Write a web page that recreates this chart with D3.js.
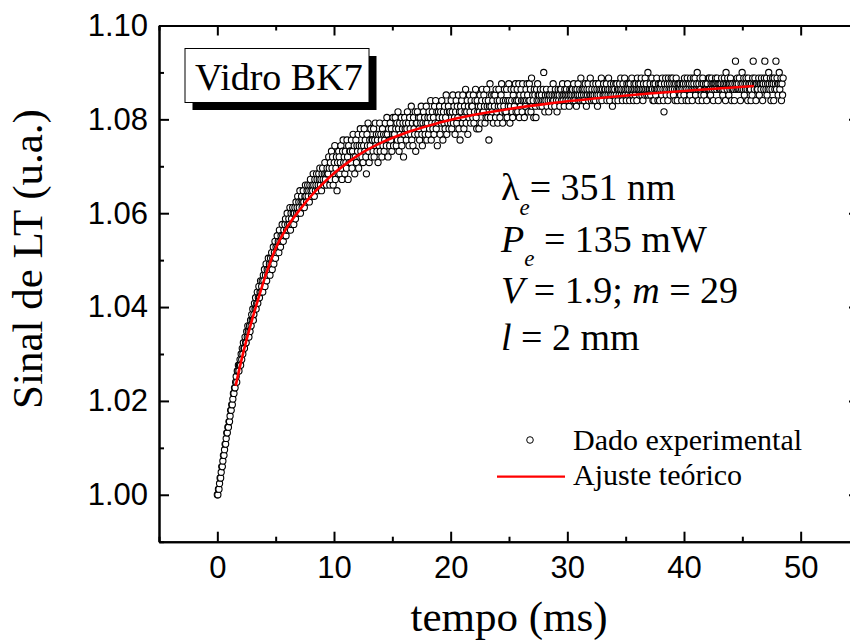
<!DOCTYPE html>
<html><head><meta charset="utf-8">
<script src="https://cdn.jsdelivr.net/npm/d3@7"></script>
<style>body{margin:0;background:#fff;} svg{display:block;}</style>
</head><body>
<svg id="chart" width="850" height="642"></svg>
<script>
// ---------------- data ----------------
const xDomain = [-5, 55];
const yDomain = [0.99, 1.10];
const xTicksMajor = [0, 10, 20, 30, 40, 50];
const xTicksMinor = [-5, 5, 15, 25, 35, 45, 55];
const yTicksMajor = [1.00, 1.02, 1.04, 1.06, 1.08, 1.10];
const yTicksMinor = [0.99, 1.01, 1.03, 1.05, 1.07, 1.09];

// sampling of the experimental record (ms)
const sampleStart = 0;
const sampleStep = 0.0475;

// experimental LT signal (a.u.), one value per sample
const signal = [
1.0000,1.0000,1.0012,1.0012,1.0024,1.0036,1.0036,1.0048,1.0060,1.0060,1.0072,1.0084,1.0084,1.0096,1.0108,1.0108,1.0120,1.0132,1.0132,1.0144,
1.0144,1.0156,1.0156,1.0168,1.0180,1.0180,1.0192,1.0192,1.0204,1.0216,1.0216,1.0228,1.0228,1.0240,1.0252,1.0240,1.0264,1.0264,1.0276,1.0264,
1.0276,1.0288,1.0276,1.0300,1.0288,1.0312,1.0300,1.0324,1.0312,1.0312,1.0336,1.0324,1.0324,1.0348,1.0336,1.0360,1.0348,1.0336,1.0360,1.0348,
1.0372,1.0360,1.0384,1.0372,1.0396,1.0372,1.0384,1.0408,1.0396,1.0420,1.0396,1.0408,1.0432,1.0408,1.0420,1.0444,1.0420,1.0432,1.0456,1.0432,
1.0444,1.0456,1.0432,1.0468,1.0456,1.0480,1.0444,1.0468,1.0492,1.0456,1.0480,1.0468,1.0504,1.0480,1.0492,1.0468,1.0504,1.0492,1.0516,1.0480,
1.0504,1.0528,1.0492,1.0516,1.0540,1.0504,1.0528,1.0516,1.0552,1.0528,1.0540,1.0516,1.0564,1.0540,1.0528,1.0552,1.0540,1.0576,1.0552,1.0540,
1.0564,1.0552,1.0576,1.0588,1.0552,1.0564,1.0600,1.0576,1.0564,1.0588,1.0576,1.0612,1.0564,1.0600,1.0588,1.0576,1.0612,1.0600,1.0576,1.0600,
1.0612,1.0588,1.0624,1.0600,1.0612,1.0636,1.0600,1.0624,1.0612,1.0648,1.0600,1.0624,1.0636,1.0612,1.0624,1.0648,1.0624,1.0612,1.0636,1.0660,
1.0636,1.0624,1.0648,1.0660,1.0636,1.0648,1.0624,1.0660,1.0672,1.0648,1.0636,1.0660,1.0648,1.0684,1.0660,1.0636,1.0672,1.0648,1.0660,1.0684,
1.0672,1.0648,1.0660,1.0684,1.0672,1.0696,1.0660,1.0672,1.0648,1.0684,1.0696,1.0672,1.0660,1.0684,1.0708,1.0672,1.0684,1.0660,1.0696,1.0684,
1.0684,1.0720,1.0696,1.0660,1.0708,1.0672,1.0732,1.0696,1.0720,1.0660,1.0684,1.0708,1.0744,1.0672,1.0696,1.0720,1.0648,1.0708,1.0684,1.0732,
1.0720,1.0684,1.0708,1.0744,1.0696,1.0672,1.0732,1.0756,1.0708,1.0720,1.0684,1.0732,1.0708,1.0696,1.0756,1.0720,1.0672,1.0744,1.0708,1.0732,
1.0732,1.0708,1.0756,1.0696,1.0732,1.0768,1.0720,1.0744,1.0684,1.0720,1.0756,1.0708,1.0744,1.0732,1.0768,1.0696,1.0744,1.0720,1.0780,1.0732,
1.0744,1.0720,1.0768,1.0708,1.0744,1.0780,1.0732,1.0756,1.0720,1.0684,1.0768,1.0744,1.0792,1.0732,1.0708,1.0756,1.0744,1.0780,1.0720,1.0756,
1.0756,1.0732,1.0780,1.0720,1.0756,1.0792,1.0744,1.0768,1.0732,1.0756,1.0708,1.0768,1.0744,1.0792,1.0732,1.0768,1.0756,1.0720,1.0780,1.0744,
1.0768,1.0732,1.0756,1.0792,1.0768,1.0744,1.0804,1.0768,1.0720,1.0780,1.0756,1.0744,1.0792,1.0756,1.0780,1.0732,1.0768,1.0804,1.0744,1.0768,
1.0768,1.0804,1.0780,1.0744,1.0792,1.0756,1.0816,1.0780,1.0732,1.0792,1.0768,1.0756,1.0804,1.0744,1.0780,1.0792,1.0720,1.0768,1.0804,1.0780,
1.0792,1.0756,1.0780,1.0816,1.0768,1.0792,1.0744,1.0804,1.0780,1.0768,1.0828,1.0756,1.0792,1.0744,1.0804,1.0780,1.0768,1.0816,1.0732,1.0792,
1.0792,1.0816,1.0768,1.0804,1.0780,1.0756,1.0804,1.0792,1.0828,1.0768,1.0744,1.0792,1.0816,1.0780,1.0804,1.0768,1.0792,1.0828,1.0756,1.0792,
1.0804,1.0768,1.0816,1.0780,1.0804,1.0840,1.0756,1.0792,1.0816,1.0780,1.0804,1.0768,1.0828,1.0792,1.0840,1.0780,1.0816,1.0744,1.0792,1.0816,
1.0804,1.0828,1.0768,1.0816,1.0792,1.0840,1.0804,1.0756,1.0816,1.0792,1.0828,1.0780,1.0804,1.0852,1.0768,1.0816,1.0792,1.0828,1.0780,1.0816,
1.0816,1.0792,1.0840,1.0780,1.0816,1.0852,1.0792,1.0828,1.0804,1.0768,1.0816,1.0840,1.0792,1.0828,1.0804,1.0852,1.0780,1.0816,1.0756,1.0828,
1.0816,1.0840,1.0792,1.0852,1.0804,1.0780,1.0828,1.0816,1.0864,1.0792,1.0816,1.0840,1.0768,1.0828,1.0804,1.0852,1.0816,1.0792,1.0840,1.0828,
1.0828,1.0804,1.0852,1.0792,1.0816,1.0840,1.0864,1.0804,1.0780,1.0840,1.0816,1.0828,1.0780,1.0816,1.0852,1.0828,1.0792,1.0840,1.0864,1.0816,
1.0816,1.0852,1.0828,1.0792,1.0840,1.0804,1.0864,1.0828,1.0804,1.0840,1.0756,1.0828,1.0876,1.0804,1.0828,1.0852,1.0816,1.0840,1.0792,1.0852,
1.0828,1.0852,1.0804,1.0864,1.0816,1.0840,1.0792,1.0828,1.0864,1.0840,1.0804,1.0828,1.0852,1.0876,1.0816,1.0792,1.0840,1.0828,1.0864,1.0816,
1.0840,1.0816,1.0864,1.0804,1.0840,1.0828,1.0876,1.0840,1.0792,1.0828,1.0864,1.0840,1.0816,1.0804,1.0852,1.0864,1.0828,1.0840,1.0876,1.0816,
1.0840,1.0864,1.0816,1.0840,1.0876,1.0804,1.0852,1.0828,1.0864,1.0840,1.0816,1.0876,1.0840,1.0852,1.0804,1.0840,1.0828,1.0864,1.0840,1.0876,
1.0852,1.0816,1.0840,1.0876,1.0840,1.0864,1.0816,1.0888,1.0828,1.0852,1.0840,1.0804,1.0864,1.0852,1.0828,1.0804,1.0864,1.0840,1.0876,1.0852,
1.0840,1.0852,1.0828,1.0864,1.0840,1.0852,1.0828,1.0840,1.0864,1.0900,1.0840,1.0816,1.0852,1.0840,1.0864,1.0828,1.0852,1.0840,1.0816,1.0852,
1.0852,1.0840,1.0864,1.0828,1.0852,1.0840,1.0876,1.0840,1.0852,1.0828,1.0864,1.0852,1.0840,1.0816,1.0852,1.0864,1.0840,1.0852,1.0828,1.0864,
1.0864,1.0840,1.0852,1.0876,1.0840,1.0852,1.0828,1.0864,1.0852,1.0840,1.0864,1.0852,1.0876,1.0840,1.0852,1.0828,1.0864,1.0852,1.0840,1.0864,
1.0852,1.0864,1.0840,1.0876,1.0852,1.0840,1.0864,1.0852,1.0828,1.0864,1.0852,1.0876,1.0840,1.0852,1.0864,1.0840,1.0888,1.0852,1.0864,1.0840,
1.0864,1.0852,1.0840,1.0864,1.0876,1.0852,1.0828,1.0864,1.0852,1.0876,1.0840,1.0864,1.0852,1.0888,1.0852,1.0840,1.0864,1.0852,1.0876,1.0840,
1.0852,1.0864,1.0840,1.0876,1.0852,1.0864,1.0828,1.0852,1.0876,1.0864,1.0840,1.0852,1.0864,1.0888,1.0840,1.0864,1.0852,1.0876,1.0852,1.0864,
1.0864,1.0852,1.0876,1.0840,1.0864,1.0852,1.0888,1.0864,1.0840,1.0852,1.0876,1.0864,1.0852,1.0828,1.0864,1.0876,1.0852,1.0864,1.0840,1.0876,
1.0852,1.0876,1.0864,1.0840,1.0864,1.0852,1.0876,1.0864,1.0888,1.0852,1.0864,1.0840,1.0876,1.0852,1.0864,1.0888,1.0852,1.0864,1.0840,1.0876,
1.0864,1.0852,1.0876,1.0864,1.0840,1.0876,1.0852,1.0864,1.0888,1.0852,1.0864,1.0840,1.0876,1.0864,1.0852,1.0876,1.0864,1.0840,1.0888,1.0864,
1.0876,1.0864,1.0852,1.0876,1.0864,1.0888,1.0852,1.0864,1.0840,1.0876,1.0864,1.0852,1.0888,1.0864,1.0876,1.0852,1.0864,1.0900,1.0852,1.0864,
1.0864,1.0876,1.0852,1.0864,1.0888,1.0864,1.0840,1.0876,1.0840,1.0864,1.0876,1.0852,1.0864,1.0888,1.0864,1.0840,1.0876,1.0864,1.0840,1.0876,
1.0864,1.0876,1.0852,1.0888,1.0864,1.0840,1.0816,1.0876,1.0864,1.0888,1.0852,1.0864,1.0876,1.0840,1.0888,1.0864,1.0876,1.0852,1.0864,1.0888,
1.0876,1.0864,1.0888,1.0852,1.0876,1.0864,1.0840,1.0876,1.0888,1.0864,1.0840,1.0876,1.0864,1.0876,1.0864,1.0876,1.0852,1.0864,1.0840,1.0876,
1.0864,1.0876,1.0852,1.0888,1.0864,1.0876,1.0840,1.0864,1.0888,1.0876,1.0840,1.0864,1.0876,1.0852,1.0888,1.0864,1.0876,1.0840,1.0864,1.0888,
1.0876,1.0864,1.0888,1.0852,1.0864,1.0876,1.0900,1.0864,1.0840,1.0876,1.0864,1.0888,1.0864,1.0852,1.0876,1.0840,1.0888,1.0876,1.0852,1.0864,
1.0864,1.0876,1.0864,1.0840,1.0876,1.0864,1.0888,1.0864,1.0888,1.0864,1.0852,1.0876,1.0888,1.0864,1.0876,1.0840,1.0876,1.0864,1.0876,1.0888,
1.0876,1.0864,1.0888,1.0876,1.0840,1.0876,1.0864,1.0876,1.0864,1.0876,1.0888,1.0864,1.0852,1.0876,1.0864,1.0888,1.0876,1.0840,1.0900,1.0876,
1.0864,1.0888,1.0876,1.0852,1.0876,1.0864,1.0888,1.0876,1.0840,1.0864,1.0876,1.0864,1.0864,1.0840,1.0876,1.0924,1.0864,1.0876,1.0888,1.0864,
1.0876,1.0864,1.0888,1.0864,1.0840,1.0876,1.0864,1.0900,1.0876,1.0864,1.0888,1.0852,1.0876,1.0864,1.0888,1.0876,1.0864,1.0840,1.0888,1.0876,
1.0864,1.0876,1.0864,1.0840,1.0876,1.0852,1.0888,1.0924,1.0876,1.0864,1.0888,1.0876,1.0840,1.0876,1.0864,1.0864,1.0876,1.0888,1.0852,1.0876,
1.0876,1.0864,1.0888,1.0876,1.0840,1.0876,1.0864,1.0888,1.0924,1.0876,1.0864,1.0888,1.0852,1.0876,1.0864,1.0900,1.0876,1.0864,1.0888,1.0840,
1.0876,1.0864,1.0888,1.0876,1.0840,1.0888,1.0864,1.0876,1.0924,1.0864,1.0888,1.0876,1.0852,1.0876,1.0900,1.0864,1.0876,1.0888,1.0840,1.0876,1.0852,1.0888
];

// theoretical fit curve
const fitTime   = [1.57, 2.0, 2.5, 3.0, 3.5, 4.0, 4.5, 5.0, 5.9, 7.05, 8.0, 9.0, 10.0, 11.34, 12.5, 14.2, 16.0, 17.5, 19.5, 21.3, 25.0, 28.5, 33.0, 37.0, 42.0, 46.0];
const fitSignal = [1.0232, 1.0280, 1.0330, 1.0375, 1.0417, 1.0457, 1.0493, 1.0525, 1.0567, 1.0607, 1.0636, 1.0662, 1.0685, 1.0711, 1.0730, 1.0752, 1.0770, 1.0782, 1.0796, 1.0806, 1.0822, 1.0834, 1.0846, 1.0855, 1.0864, 1.0871];

const legendLabels = ["Dado experimental", "Ajuste teórico"];
const sampleLabel = "Vidro BK7";
const xTitle = "tempo (ms)";
const yTitle = "Sinal de LT (u.a.)";

// ---------------- drawing ----------------
const svg = d3.select("#chart");
const W = 850, H = 642;
const plot = {left: 159, right: 859, top: 25.5, bottom: 541.7};
const serif = "Liberation Serif, Times New Roman, Times, serif";
const sans = "Liberation Sans, Arial, Helvetica, sans-serif";

svg.append("rect").attr("width", W).attr("height", H).attr("fill", "#fff");

const x = d3.scaleLinear().domain(xDomain).range([plot.left, plot.right]);
const y = d3.scaleLinear().domain(yDomain).range([plot.bottom, plot.top]);

const points = signal.map((v, i) => ({t: sampleStart + i * sampleStep, v}));

// experimental points
svg.append("g").selectAll("circle").data(points).join("circle")
  .attr("cx", d => x(d.t)).attr("cy", d => y(d.v)).attr("r", 3.1)
  .attr("fill", "#fff").attr("stroke", "#000").attr("stroke-width", 1.1);

// fit curve
const fitData = fitTime.map((t, i) => ({t, v: fitSignal[i]}));
svg.append("path").datum(fitData)
  .attr("d", d3.line().x(d => x(d.t)).y(d => y(d.v)).curve(d3.curveMonotoneX))
  .attr("fill", "none").attr("stroke", "#ff0000").attr("stroke-width", 2.6);

// axes
function styleAxis(g) {
  g.selectAll(".domain").attr("stroke", "#000").attr("stroke-width", 2);
  g.selectAll(".tick line").attr("stroke", "#000").attr("stroke-width", 2);
  g.selectAll(".tick text").attr("fill", "#000").attr("font-family", sans).attr("font-size", 31);
}
const fmtY = d3.format(".2f");

svg.append("g").attr("transform", `translate(0,${plot.bottom})`)
  .call(d3.axisBottom(x).tickValues(xTicksMajor).tickSize(-10).tickSizeOuter(0).tickPadding(14).tickFormat(d3.format("d")))
  .call(styleAxis);
svg.append("g").attr("transform", `translate(0,${plot.bottom})`)
  .call(d3.axisBottom(x).tickValues(xTicksMinor).tickSize(-5).tickSizeOuter(0).tickFormat(""))
  .call(styleAxis);
svg.append("g").attr("transform", `translate(0,${plot.top})`)
  .call(d3.axisTop(x).tickValues(xTicksMajor).tickSize(-10).tickSizeOuter(0).tickFormat(""))
  .call(styleAxis);
svg.append("g").attr("transform", `translate(0,${plot.top})`)
  .call(d3.axisTop(x).tickValues(xTicksMinor).tickSize(-5).tickSizeOuter(0).tickFormat(""))
  .call(styleAxis);

svg.append("g").attr("transform", `translate(${plot.left},0)`)
  .call(d3.axisLeft(y).tickValues(yTicksMajor).tickSize(-10).tickSizeOuter(0).tickPadding(11).tickFormat(fmtY))
  .call(styleAxis);
svg.append("g").attr("transform", `translate(${plot.left},0)`)
  .call(d3.axisLeft(y).tickValues(yTicksMinor).tickSize(-5).tickSizeOuter(0).tickFormat(""))
  .call(styleAxis);
svg.append("g").attr("transform", `translate(${plot.right},0)`)
  .call(d3.axisRight(y).tickValues(yTicksMajor).tickSize(-10).tickSizeOuter(0).tickFormat(""))
  .call(styleAxis);
svg.append("g").attr("transform", `translate(${plot.right},0)`)
  .call(d3.axisRight(y).tickValues(yTicksMinor).tickSize(-5).tickSizeOuter(0).tickFormat(""))
  .call(styleAxis);

// axis titles
svg.append("text").attr("x", (plot.left + plot.right) / 2).attr("y", 631)
  .attr("text-anchor", "middle").attr("font-family", serif).attr("font-size", 43).text(xTitle);
svg.append("text").attr("transform", "translate(42,259) rotate(-90)")
  .attr("text-anchor", "middle").attr("font-family", serif).attr("font-size", 43).text(yTitle);

// sample label box with shadow
svg.append("rect").attr("x", 192.5).attr("y", 56).attr("width", 184).attr("height", 54).attr("fill", "#000");
svg.append("rect").attr("x", 185).attr("y", 48.5).attr("width", 184).attr("height", 54)
  .attr("fill", "#fff").attr("stroke", "#000").attr("stroke-width", 1);
svg.append("text").attr("x", 195).attr("y", 89.5).attr("font-family", serif).attr("font-size", 38).text(sampleLabel);

// parameters annotation
function annLine(yb, parts) {
  const t = svg.append("text").attr("x", 501).attr("y", yb)
    .attr("font-family", serif).attr("font-size", 38).attr("fill", "#000");
  parts.forEach(p => {
    const s = t.append("tspan").attr("font-family", serif).text(p.s);
    if (p.it) s.attr("font-style", "italic");
    s.attr("font-size", p.sub ? 23 : 38);
    if (p.sub) s.attr("dy", p.sub);
    if (p.dy) s.attr("dy", p.dy);
  });
}
annLine(200, [{s: "λ"}, {s: "e", it: true, sub: 15}, {s: "= 351 nm", dy: -15}]);
annLine(251.7, [{s: "P", it: true}, {s: "e", it: true, sub: 14}, {s: " = 135 mW", dy: -14}]);
annLine(303.3, [{s: "V", it: true}, {s: " = 1.9; "}, {s: "m", it: true}, {s: " = 29"}]);
annLine(350, [{s: "l", it: true}, {s: " = 2 mm"}]);

// legend
svg.append("circle").attr("cx", 530).attr("cy", 440).attr("r", 3.3)
  .attr("fill", "#fff").attr("stroke", "#000").attr("stroke-width", 1);
svg.append("text").attr("x", 573).attr("y", 450).attr("font-family", serif).attr("font-size", 30).text(legendLabels[0]);
svg.append("line").attr("x1", 497).attr("x2", 565).attr("y1", 476.7).attr("y2", 476.7)
  .attr("stroke", "#ff0000").attr("stroke-width", 2.2);
svg.append("text").attr("x", 573).attr("y", 485).attr("font-family", serif).attr("font-size", 30).text(legendLabels[1]);
</script>
</body></html>
